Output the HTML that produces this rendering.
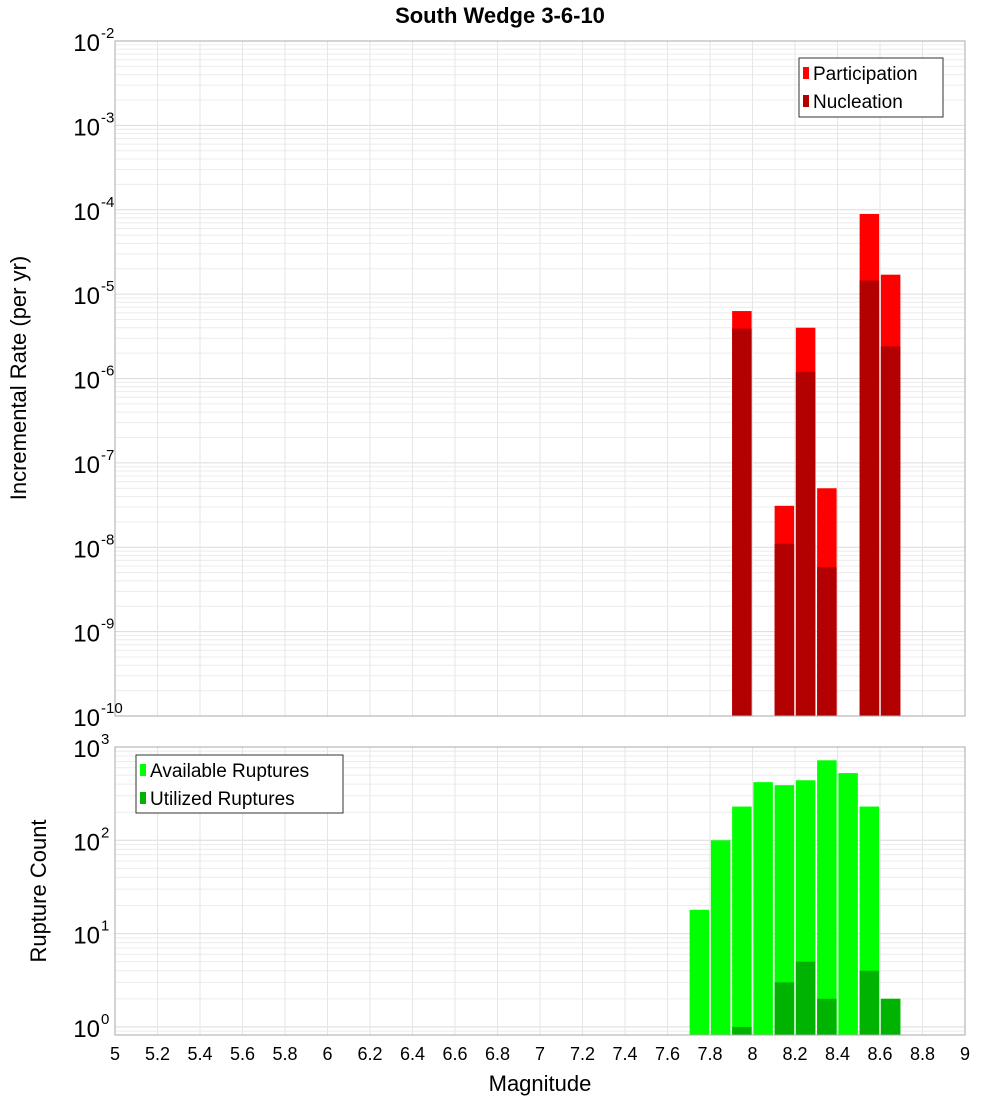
<!DOCTYPE html>
<html><head><meta charset="utf-8"><style>
body{margin:0;background:#fff;font-family:"Liberation Sans","DejaVu Sans",sans-serif}
svg{display:block}
</style></head><body>
<svg id="c" width="1000" height="1100" xmlns="http://www.w3.org/2000/svg"></svg>
<script>
const bins=[7.75,7.85,7.95,8.05,8.15,8.25,8.35,8.45,8.55,8.65];
const participation=[0,0,6.3e-6,0,3.1e-8,4e-6,5e-8,0,8.9e-5,1.7e-5];
const nucleation=[0,0,3.9e-6,0,1.1e-8,1.2e-6,5.8e-9,0,1.45e-5,2.4e-6];
const available=[18,100,230,420,390,440,720,525,230,2];
const utilized=[0,0,1,0,3,5,2,0,4,2];
const xTicks=[5,5.2,5.4,5.6,5.8,6,6.2,6.4,6.6,6.8,7,7.2,7.4,7.6,7.8,8,8.2,8.4,8.6,8.8,9];
const topExps=[-2,-3,-4,-5,-6,-7,-8,-9,-10];
const botExps=[3,2,1,0];

const NS="http://www.w3.org/2000/svg";
const svg=document.getElementById('c');
function el(t,a,p){const e=document.createElementNS(NS,t);for(const k in a)e.setAttribute(k,a[k]);(p||svg).appendChild(e);return e;}
const X0=115,X1=965;
const x=v=>X0+(v-5)/4*(X1-X0);
const T0=41,T1=716;
const yTop=v=>T0+(-2-Math.log10(v))/8*(T1-T0);
const B0=747,B1=1035,BD=93.3;
const yBot=v=>B0+(3-Math.log10(v))*BD;

// title
let t=el('text',{x:500,y:23,'text-anchor':'middle','font-size':22,'font-weight':'bold'});t.textContent='South Wedge 3-6-10';


function grid(y0,y1,yf,decHi,decLo,minV){
  const g=el('g',{});
  for(let d=decLo;d<decHi;d++){for(let m=1;m<10;m++){const v=m*Math.pow(10,d);const yy=yf(v);if(yy<y0-0.5||yy>y1+0.5)continue;
    el('line',{x1:X0,x2:X1,y1:yy,y2:yy,stroke:m==1?'#dcdcdc':'#ececec','stroke-width':1},g);}}
  xTicks.forEach(v=>el('line',{x1:x(v),x2:x(v),y1:y0,y2:y1,stroke:'#e6e6e6'},g));
  return g;
}
// top panel
const gt=grid(T0,T1,yTop,-2,-10);

const bw=19.5, half=(X1-X0)/40;
bins.forEach((b,i)=>{
  if(participation[i]>0){const r=el('rect',{x:x(b)-bw/2,y:yTop(participation[i]),width:bw,height:T1-yTop(participation[i]),fill:'#ff0000'});
    }
  if(nucleation[i]>0){const r=el('rect',{x:x(b)-bw/2,y:yTop(nucleation[i]),width:bw,height:T1-yTop(nucleation[i]),fill:'#b30000'});
    }
});
el('rect',{x:X0,y:T0,width:X1-X0,height:T1-T0,fill:'none',stroke:'#aaa'});
topExps.forEach(e=>{const yy=yTop(Math.pow(10,e));
  const tx=el('text',{x:100,y:yy+10,'text-anchor':'end','font-size':24});tx.textContent='10';
  
  const s=el('text',{x:101,y:yy-3,'font-size':15});s.textContent=String(e);
  });
t=el('text',{x:0,y:0,transform:'translate(26,378) rotate(-90)','text-anchor':'middle','font-size':22});t.textContent='Incremental Rate (per yr)';

// legend top
let lg=el('g',{});
el('rect',{x:799,y:58,width:144,height:59,fill:'#fff',stroke:'#333'},lg);
el('rect',{x:803,y:67,width:6,height:12,fill:'#ff0000'},lg);
el('rect',{x:803,y:95,width:6,height:12,fill:'#b30000'},lg);
t=el('text',{x:813,y:80,'font-size':19},lg);t.textContent='Participation';
t=el('text',{x:813,y:108,'font-size':19},lg);t.textContent='Nucleation';

// bottom panel
const gb=grid(B0,B1,yBot,3,-1);

bins.forEach((b,i)=>{
  if(available[i]>0){const r=el('rect',{x:x(b)-bw/2,y:yBot(available[i]),width:bw,height:B1-yBot(available[i]),fill:'#00ff00'});
    }
  if(utilized[i]>0){const r=el('rect',{x:x(b)-bw/2,y:yBot(utilized[i]),width:bw,height:B1-yBot(utilized[i]),fill:'#00b300'});
    }
});
el('rect',{x:X0,y:B0,width:X1-X0,height:B1-B0,fill:'none',stroke:'#aaa'});
botExps.forEach(e=>{const yy=yBot(Math.pow(10,e));
  const tx=el('text',{x:100,y:yy+10,'text-anchor':'end','font-size':24});tx.textContent='10';
  
  const s=el('text',{x:101,y:yy-3,'font-size':15});s.textContent=String(e);
  });
t=el('text',{x:0,y:0,transform:'translate(46,891) rotate(-90)','text-anchor':'middle','font-size':22});t.textContent='Rupture Count';

lg=el('g',{});
el('rect',{x:136,y:755,width:207,height:58,fill:'#fff',stroke:'#333'},lg);
el('rect',{x:140,y:764,width:6,height:12,fill:'#00ff00'},lg);
el('rect',{x:140,y:792,width:6,height:12,fill:'#00b300'},lg);
t=el('text',{x:150,y:777,'font-size':19},lg);t.textContent='Available Ruptures';
t=el('text',{x:150,y:805,'font-size':19},lg);t.textContent='Utilized Ruptures';

xTicks.forEach(v=>{const tx=el('text',{x:x(v),y:1060,'text-anchor':'middle','font-size':18});
  tx.textContent=String(v);});
t=el('text',{x:540,y:1091,'text-anchor':'middle','font-size':22});t.textContent='Magnitude';

</script>
</body></html>
